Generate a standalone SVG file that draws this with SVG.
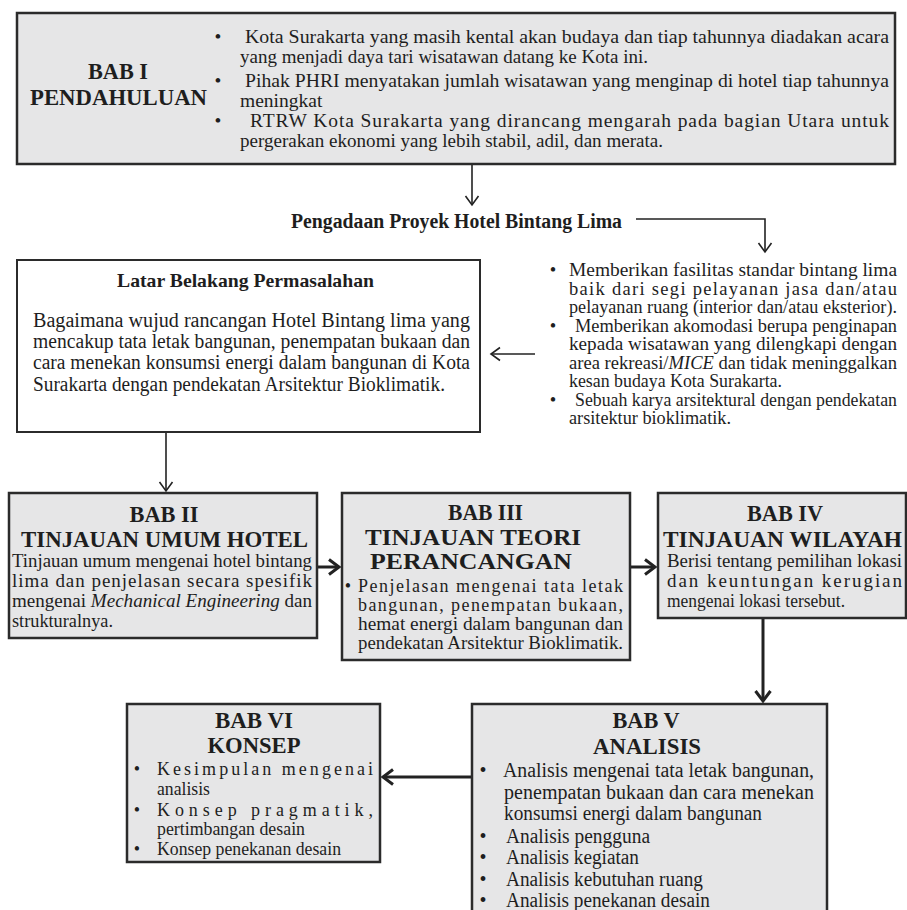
<svg xmlns="http://www.w3.org/2000/svg" width="907" height="910" viewBox="0 0 907 910" font-family="'Liberation Serif', serif">
<style>
text{font-family:'Liberation Serif', serif;fill:#1e1e1e}
.box{fill:#e6e6e7;stroke:#2b2b2b;stroke-width:2.5}
.wbox{fill:#ffffff;stroke:#2b2b2b;stroke-width:2}
.h{font-weight:bold;font-size:24px}
.t1{font-size:19.5px}
.t2{font-size:18.5px}
.t3{font-size:20.5px}
.t4{font-size:19px}
.t5{font-size:18px}
.t6{font-size:20px}
.mid{text-anchor:middle}
.thin{fill:none;stroke:#222;stroke-width:1.6}
.thick{fill:none;stroke:#222;stroke-width:3}
</style>
<defs>
<marker id="ah" viewBox="-11 -8 14 16" refX="0" refY="0" markerWidth="14" markerHeight="16" markerUnits="userSpaceOnUse" orient="auto">
<path d="M-9,-6.5 L0,0 L-9,6.5" fill="none" stroke="#222" stroke-width="1.6"/>
</marker>
<marker id="ahb" viewBox="-12 -10 16 20" refX="0" refY="0" markerWidth="16" markerHeight="20" markerUnits="userSpaceOnUse" orient="auto">
<path d="M-10,-7.5 L0,0 L-10,7.5" fill="none" stroke="#222" stroke-width="3"/>
</marker>
</defs>
<rect width="907" height="910" fill="#ffffff"/>

<g id="connectors">
<path class="thin" d="M472,165 V205" marker-end="url(#ah)"/>
<path class="thin" d="M636,219 H765 V252" marker-end="url(#ah)"/>
<path class="thin" d="M535,354 H491" marker-end="url(#ah)"/>
<path class="thin" d="M166,432 V491" marker-end="url(#ah)"/>
<path class="thick" d="M318,567 H339" marker-end="url(#ahb)"/>
<path class="thick" d="M631,567 H655" marker-end="url(#ahb)"/>
<path class="thick" d="M763,619 V701" marker-end="url(#ahb)"/>
<path class="thick" d="M472,777 H383" marker-end="url(#ahb)"/>
</g>

<g id="bab1">
<rect class="box" x="17" y="13" width="878" height="151"/>
<text class="mid" x="118" y="79" font-weight="bold" font-size="23" textLength="60" lengthAdjust="spacingAndGlyphs">BAB I</text>
<text x="30" y="105" font-weight="bold" font-size="23" textLength="177" lengthAdjust="spacingAndGlyphs">PENDAHULUAN</text>
<text class="t1 mid" x="218" y="43">•</text>
<text class="t1 mid" x="218" y="87">•</text>
<text class="t1 mid" x="218" y="127">•</text>
<text class="t1" x="245" y="43" textLength="644" lengthAdjust="spacingAndGlyphs">Kota Surakarta yang masih kental akan budaya dan tiap tahunnya diadakan acara</text>
<text class="t1" x="240" y="63" textLength="408" lengthAdjust="spacingAndGlyphs">yang menjadi daya tari wisatawan datang ke Kota ini.</text>
<text class="t1" x="245" y="87" textLength="644" lengthAdjust="spacingAndGlyphs">Pihak PHRI menyatakan jumlah wisatawan yang menginap di hotel tiap tahunnya</text>
<text class="t1" x="240" y="107">meningkat</text>
<text class="t1" x="250" y="127" textLength="639" lengthAdjust="spacing">RTRW Kota Surakarta yang dirancang mengarah pada bagian Utara untuk</text>
<text class="t1" x="240" y="147" textLength="423" lengthAdjust="spacingAndGlyphs">pergerakan ekonomi yang lebih stabil, adil, dan merata.</text>
</g>

<g id="pengadaan">
<text x="291" y="228" font-weight="bold" font-size="20" textLength="331" lengthAdjust="spacingAndGlyphs">Pengadaan Proyek Hotel Bintang Lima</text>
</g>

<g id="latar">
<rect class="wbox" x="17" y="260" width="463" height="172"/>
<text x="117" y="287" font-weight="bold" font-size="19.5" textLength="257" lengthAdjust="spacingAndGlyphs">Latar Belakang Permasalahan</text>
<text class="t3" x="33" y="327" textLength="437" lengthAdjust="spacingAndGlyphs">Bagaimana wujud  rancangan Hotel Bintang lima yang</text>
<text class="t3" x="33" y="348" textLength="437" lengthAdjust="spacingAndGlyphs">mencakup tata letak bangunan, penempatan bukaan dan</text>
<text class="t3" x="33" y="369" textLength="437" lengthAdjust="spacingAndGlyphs">cara menekan konsumsi energi dalam bangunan di Kota</text>
<text class="t3" x="33" y="391" textLength="412" lengthAdjust="spacingAndGlyphs">Surakarta dengan pendekatan Arsitektur Bioklimatik.</text>
</g>

<g id="tujuan">
<text class="t2 mid" x="553" y="276">•</text>
<text class="t2 mid" x="553" y="331.5">•</text>
<text class="t2 mid" x="553" y="405.5">•</text>
<text class="t2" x="569" y="276" textLength="328" lengthAdjust="spacingAndGlyphs">Memberikan fasilitas standar bintang lima</text>
<text class="t2" x="569" y="294.5" textLength="328" lengthAdjust="spacing">baik dari segi pelayanan jasa dan/atau</text>
<text class="t2" x="569" y="313" textLength="328" lengthAdjust="spacingAndGlyphs">pelayanan ruang (interior dan/atau eksterior).</text>
<text class="t2" x="575" y="331.5" textLength="322" lengthAdjust="spacingAndGlyphs">Memberikan akomodasi berupa penginapan</text>
<text class="t2" x="569" y="350" textLength="328" lengthAdjust="spacingAndGlyphs">kepada wisatawan yang dilengkapi dengan</text>
<text class="t2" x="569" y="368.5" textLength="328" lengthAdjust="spacingAndGlyphs">area rekreasi/<tspan font-style="italic">MICE</tspan> dan tidak meninggalkan</text>
<text class="t2" x="569" y="387" textLength="213" lengthAdjust="spacingAndGlyphs">kesan budaya  Kota Surakarta.</text>
<text class="t2" x="575" y="405.5" textLength="322" lengthAdjust="spacingAndGlyphs">Sebuah karya arsitektural dengan pendekatan</text>
<text class="t2" x="569" y="424" textLength="162" lengthAdjust="spacingAndGlyphs">arsitektur bioklimatik.</text>
</g>

<g id="bab2">
<rect class="box" x="9" y="493" width="308" height="145"/>
<text class="h mid" x="164" y="522" textLength="69" lengthAdjust="spacingAndGlyphs">BAB II</text>
<text class="h" x="21" y="547" textLength="287" lengthAdjust="spacingAndGlyphs">TINJAUAN UMUM HOTEL</text>
<text class="t4" x="12" y="567" textLength="300" lengthAdjust="spacingAndGlyphs">Tinjauan umum mengenai hotel bintang</text>
<text class="t4" x="12" y="587" textLength="300" lengthAdjust="spacing">lima dan penjelasan secara spesifik</text>
<text class="t4" x="12" y="607" textLength="300" lengthAdjust="spacingAndGlyphs">mengenai <tspan font-style="italic">Mechanical Engineering</tspan> dan</text>
<text class="t4" x="12" y="627" textLength="101" lengthAdjust="spacingAndGlyphs">strukturalnya.</text>
</g>

<g id="bab3">
<rect class="box" x="342" y="493" width="288" height="167"/>
<text class="h" x="448" y="520" textLength="75" lengthAdjust="spacingAndGlyphs">BAB III</text>
<text class="h" x="365" y="545" textLength="216" lengthAdjust="spacingAndGlyphs">TINJAUAN TEORI</text>
<text class="h" x="370" y="569" textLength="202" lengthAdjust="spacingAndGlyphs">PERANCANGAN</text>
<text class="t5 mid" x="348" y="592">•</text>
<text class="t5" x="358" y="592" textLength="265" lengthAdjust="spacing">Penjelasan mengenai tata letak</text>
<text class="t5" x="358" y="611" textLength="265" lengthAdjust="spacing">bangunan, penempatan bukaan,</text>
<text class="t5" x="358" y="630" textLength="265" lengthAdjust="spacingAndGlyphs">hemat energi dalam bangunan dan</text>
<text class="t5" x="358" y="649" textLength="265" lengthAdjust="spacingAndGlyphs">pendekatan Arsitektur Bioklimatik.</text>
</g>

<g id="bab4">
<rect class="box" x="658" y="493" width="248" height="125"/>
<text class="h mid" x="785" y="521" textLength="76" lengthAdjust="spacingAndGlyphs">BAB IV</text>
<text class="h" x="663" y="547" textLength="239" lengthAdjust="spacingAndGlyphs">TINJAUAN WILAYAH</text>
<text class="t4" x="667" y="567" textLength="235" lengthAdjust="spacingAndGlyphs">Berisi tentang pemilihan lokasi</text>
<text class="t4" x="667" y="587" textLength="235" lengthAdjust="spacing">dan keuntungan kerugian</text>
<text class="t4" x="667" y="607" textLength="178" lengthAdjust="spacingAndGlyphs">mengenai lokasi tersebut.</text>
</g>

<g id="bab5">
<rect class="box" x="472" y="704" width="355" height="220"/>
<text class="h mid" x="646" y="728" textLength="67" lengthAdjust="spacingAndGlyphs">BAB V</text>
<text class="h mid" x="647" y="754" textLength="108" lengthAdjust="spacingAndGlyphs">ANALISIS</text>
<text class="t6 mid" x="483" y="777">•</text>
<text class="t6 mid" x="483" y="843">•</text>
<text class="t6 mid" x="483" y="864">•</text>
<text class="t6 mid" x="483" y="886">•</text>
<text class="t6 mid" x="483" y="907">•</text>
<text class="t6" x="503" y="777" textLength="311" lengthAdjust="spacingAndGlyphs">Analisis mengenai tata letak bangunan,</text>
<text class="t6" x="504" y="799" textLength="310" lengthAdjust="spacing">penempatan bukaan dan cara menekan</text>
<text class="t6" x="504" y="820" textLength="258" lengthAdjust="spacingAndGlyphs">konsumsi energi dalam bangunan</text>
<text class="t6" x="506" y="843" textLength="144" lengthAdjust="spacingAndGlyphs">Analisis pengguna</text>
<text class="t6" x="506" y="864" textLength="133" lengthAdjust="spacingAndGlyphs">Analisis kegiatan</text>
<text class="t6" x="506" y="886" textLength="197" lengthAdjust="spacingAndGlyphs">Analisis kebutuhan ruang</text>
<text class="t6" x="506" y="907" textLength="204" lengthAdjust="spacingAndGlyphs">Analisis penekanan desain</text>
</g>

<g id="bab6">
<rect class="box" x="127" y="704" width="253" height="158"/>
<text class="h mid" x="254" y="728" textLength="78" lengthAdjust="spacingAndGlyphs">BAB VI</text>
<text class="h mid" x="254" y="753" textLength="93" lengthAdjust="spacingAndGlyphs">KONSEP</text>
<text class="t5 mid" x="137" y="775">•</text>
<text class="t5 mid" x="137" y="816">•</text>
<text class="t5 mid" x="137" y="855">•</text>
<text class="t5" x="157" y="775" textLength="216" lengthAdjust="spacing">Kesimpulan mengenai</text>
<text class="t5" x="157" y="795" textLength="53" lengthAdjust="spacingAndGlyphs">analisis</text>
<text class="t5" x="157" y="816" textLength="216" lengthAdjust="spacing">Konsep pragmatik,</text>
<text class="t5" x="157" y="835" textLength="148" lengthAdjust="spacingAndGlyphs">pertimbangan desain</text>
<text class="t5" x="157" y="855" textLength="184" lengthAdjust="spacingAndGlyphs">Konsep penekanan desain</text>
</g>
</svg>
